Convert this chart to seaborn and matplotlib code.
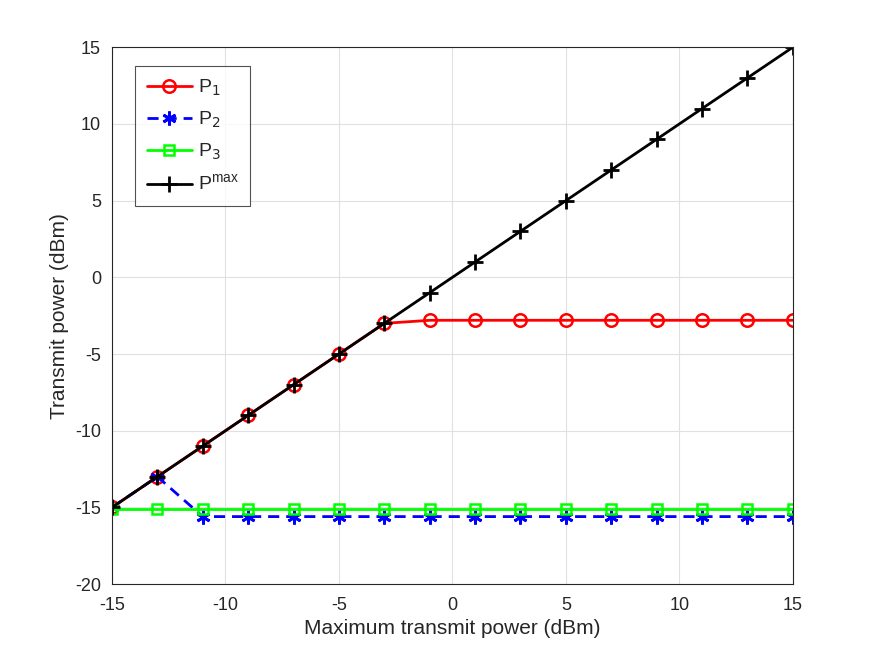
import numpy as np
import pandas as pd
import matplotlib
matplotlib.use('Agg')
import matplotlib.pyplot as plt
import seaborn as sns

sns.set_style('white')
plt.rcParams['font.family'] = ['Liberation Sans', 'DejaVu Sans']
plt.rcParams['axes.unicode_minus'] = False

# data
pmax_dbm = [-15, -13, -11, -9, -7, -5, -3, -1, 1, 3, 5, 7, 9, 11, 13, 15]
p1 = [-15, -13, -11, -9, -7, -5, -3, -2.8, -2.8, -2.8, -2.8, -2.8, -2.8, -2.8, -2.8, -2.8]
p2 = [-15, -13, -15.6, -15.6, -15.6, -15.6, -15.6, -15.6, -15.6, -15.6, -15.6, -15.6, -15.6, -15.6, -15.6, -15.6]
p3 = [-15.1] * 16
pmax = [-15, -13, -11, -9, -7, -5, -3, -1, 1, 3, 5, 7, 9, 11, 13, 15]

df = pd.DataFrame({'x': pmax_dbm, 'P1': p1, 'P2': p2, 'P3': p3, 'Pmax': pmax})

fig = plt.figure(figsize=(8.75, 6.57), dpi=100)
ax = fig.add_axes([0.128, 0.111, 0.778, 0.817])

sns.lineplot(data=df, x='x', y='P1', ax=ax, color='red', lw=2, marker='o', ms=9,
             mfc='none', mec='red', mew=1.8, label='P$_1$')
sns.lineplot(data=df, x='x', y='P2', ax=ax, color='blue', lw=2, marker=(6, 2, 0), ms=10,
             mfc='blue', mec='blue', mew=2, dashes=(4, 2.5), label='P$_2$')
sns.lineplot(data=df, x='x', y='P3', ax=ax, color='#00ff00', lw=2, marker='s', ms=7,
             mfc='none', mec='#00ff00', mew=1.8, label='P$_3$')
sns.lineplot(data=df, x='x', y='Pmax', ax=ax, color='black', lw=2, marker='+', ms=12,
             mec='black', mew=2, label='P$^{\\mathregular{max}}$')

ax.set_xlim(-15, 15)
ax.set_ylim(-20, 15)
ax.set_xticks(np.arange(-15, 16, 5))
ax.set_yticks(np.arange(-20, 16, 5))
ax.grid(True, color='#e0e0e0', lw=0.8)
ax.set_axisbelow(True)
ax.tick_params(direction='in', length=5, labelsize=13, color='#262626', labelcolor='#262626')
ax.tick_params(axis='x', pad=9)
ax.tick_params(axis='y', pad=8)
for s in ax.spines.values():
    s.set_color('#262626')
    s.set_linewidth(0.8)
ax.set_xlabel('Maximum transmit power (dBm)', fontsize=15, color='#262626', labelpad=4)
ax.set_ylabel('Transmit power (dBm)', fontsize=15, color='#262626', labelpad=4)

leg = ax.legend(loc='upper left', bbox_to_anchor=(0.02, 0.983), fontsize=14,
                frameon=True, fancybox=False, edgecolor='#262626', handlelength=2.3,
                handletextpad=0.3, borderpad=0.6, labelspacing=0.6)
leg.get_frame().set_linewidth(0.8)

fig.savefig('out.png', dpi=100)
